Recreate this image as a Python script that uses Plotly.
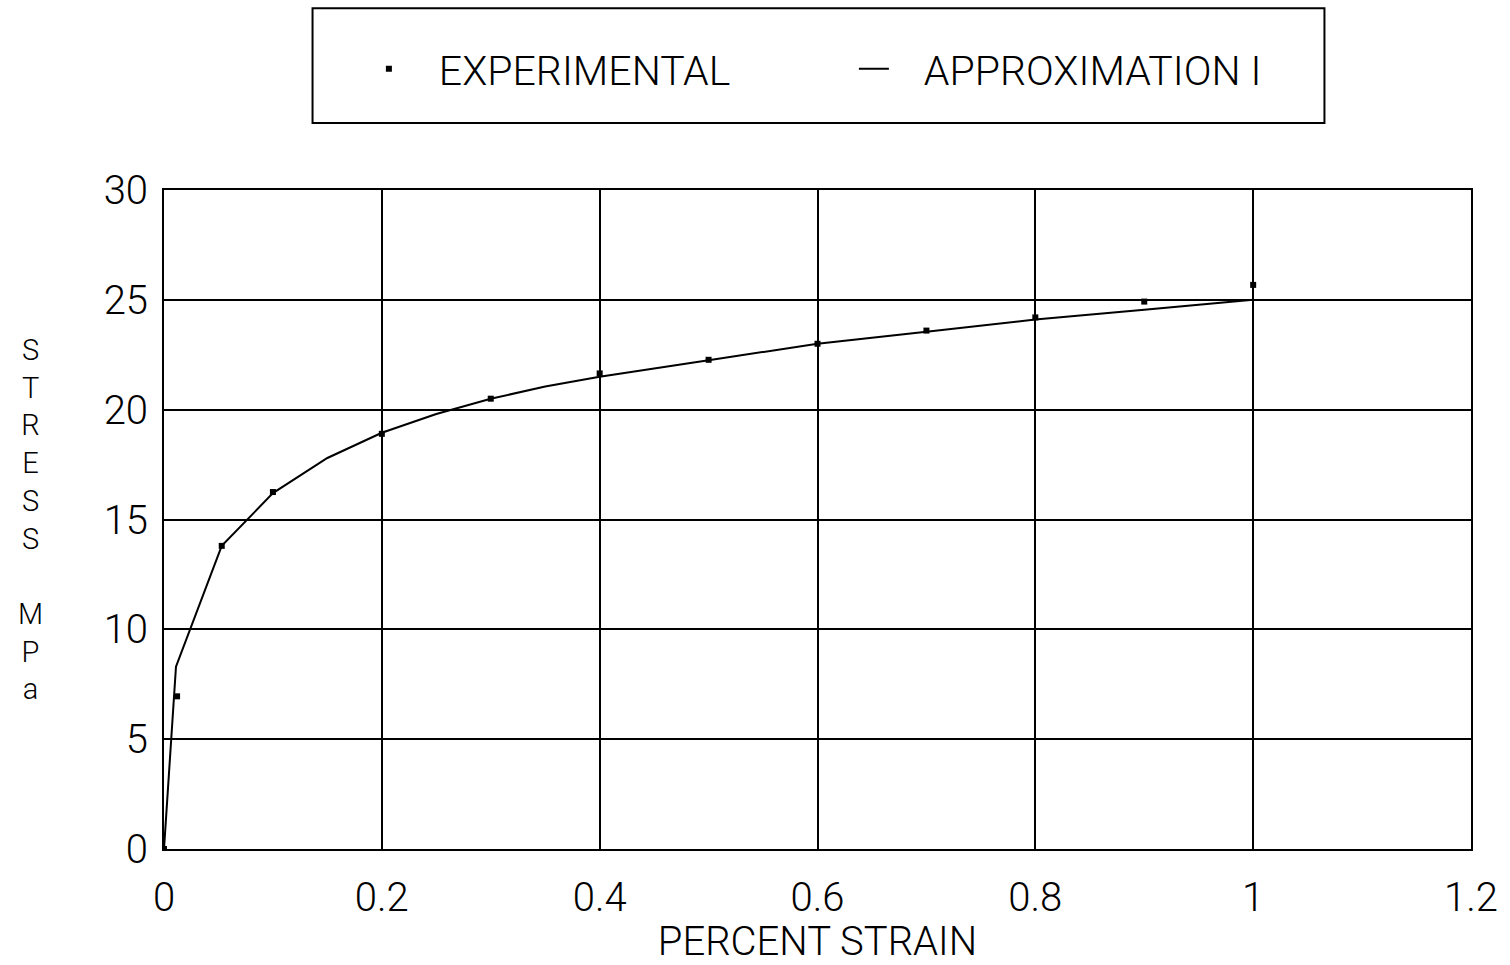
import plotly.graph_objects as go

# Experimental data
exp_strain = [0.0, 0.012, 0.053, 0.10, 0.20, 0.30, 0.40, 0.50, 0.60, 0.70, 0.80, 0.90, 1.00]
exp_stress = [0.0, 6.95, 13.8, 16.25, 18.9, 20.5, 21.65, 22.27, 23.0, 23.6, 24.2, 24.92, 25.68]

# Approximation I
apx_strain = [0.0, 0.011, 0.053, 0.10, 0.15, 0.20, 0.25, 0.30, 0.35, 0.40, 0.50, 0.60, 0.70, 0.80, 0.90, 1.00]
apx_stress = [0.0, 8.3, 13.8, 16.2, 17.8, 18.95, 19.8, 20.5, 21.05, 21.5, 22.25, 23.0, 23.55, 24.1, 24.55, 25.0]

x_ticks = [0, 0.2, 0.4, 0.6, 0.8, 1, 1.2]
x_tick_text = ["0", "0.2", "0.4", "0.6", "0.8", "1", "1.2"]
y_ticks = [0, 5, 10, 15, 20, 25, 30]

y_title_letters = ["S", "T", "R", "E", "S", "S", "", "M", "P", "a"]

FONT = "Roboto"
WEIGHT = 300
PAD = "\u00a0\u00a0\u00a0"

fig = go.Figure()
fig.add_trace(go.Scatter(
    x=exp_strain, y=exp_stress, mode="markers", name=PAD + "EXPERIMENTAL",
    marker=dict(symbol="square", size=6, color="black"),
))
fig.add_trace(go.Scatter(
    x=apx_strain, y=apx_stress, mode="lines", name=PAD + "APPROXIMATION I",
    line=dict(color="black", width=2),
))

W, H = 1510, 965
L, R, T, B = 164, 35, 190, 115
pw, ph = W - L - R, H - T - B

def px_x(px):
    return (px - L) / pw

def px_y(py):
    return (H - B - py) / ph

def fnt(size):
    return dict(family=FONT, size=size, color="black", weight=WEIGHT)

y_title = "<br>".join(ch if ch else "\u00a0" for ch in y_title_letters)

fig.update_layout(
    width=W, height=H,
    margin=dict(l=L, r=R, t=T, b=B),
    paper_bgcolor="white", plot_bgcolor="white",
    font=fnt(38),
    showlegend=True,
    legend=dict(
        orientation="h", x=px_x(856), xanchor="center", y=px_y(69), yanchor="middle",
        font=fnt(41),
        bgcolor="rgba(0,0,0,0)", borderwidth=0, entrywidth=440, entrywidthmode="pixels",
    ),
    shapes=[dict(
        type="rect", xref="paper", yref="paper",
        x0=px_x(313), x1=px_x(1328), y0=px_y(123), y1=px_y(8),
        line=dict(color="black", width=2), fillcolor="rgba(0,0,0,0)",
    )],
    annotations=[dict(
        text=y_title, xref="paper", yref="paper", x=px_x(30), y=px_y(520),
        xanchor="center", yanchor="middle", showarrow=False, align="center",
        font=fnt(29),
    )],
    xaxis=dict(
        range=[0, 1.2], tickvals=x_ticks, ticktext=x_tick_text,
        showgrid=True, gridcolor="black", gridwidth=2,
        showline=True, linecolor="black", linewidth=2, mirror=True,
        ticks="", zeroline=False, ticklabelstandoff=12,
        tickfont=fnt(40),
        title=dict(text="PERCENT STRAIN", font=fnt(40), standoff=4),
    ),
    yaxis=dict(
        range=[0, 30], tickvals=y_ticks,
        showgrid=True, gridcolor="black", gridwidth=2,
        showline=True, linecolor="black", linewidth=2, mirror=True,
        ticks="", zeroline=False, ticklabelstandoff=6,
        tickfont=fnt(40),
    ),
)

fig.write_html("out.html")
